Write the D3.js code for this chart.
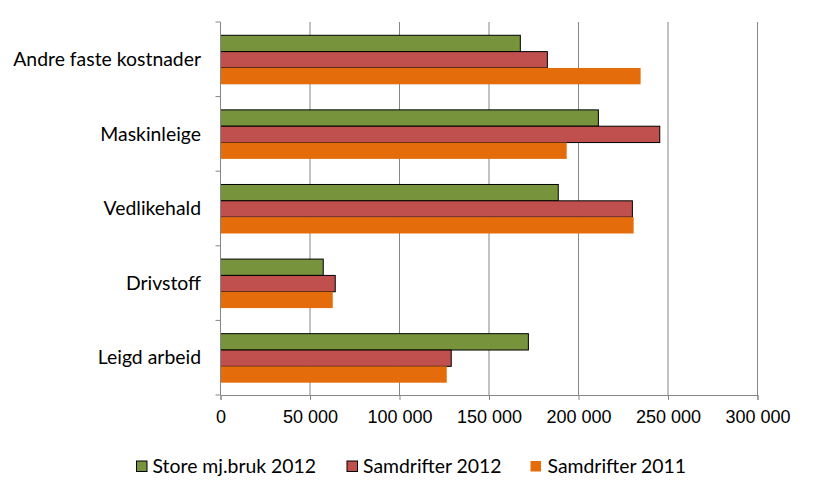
<!DOCTYPE html>
<html>
<head>
<meta charset="utf-8">
<script src="https://d3js.org/d3.v7.min.js"></script>
<style>
  body { margin: 0; background: #fff; }
  svg { display: block; font-family: Lato, "Open Sans", sans-serif; }
  .grid line { stroke: #868686; }
  .axis path, .axis line { stroke: #868686; }
  .axis text { fill: #000; font-size: 18px; }
  .catlabel { fill: #000; font-size: 19.4px; }
  .legend text { font-size: 19.4px; fill: #000; }
</style>
</head>
<body>
<svg width="814" height="498"></svg>
<script>
  // categories, top to bottom
  const categories = ['Andre faste kostnader', 'Maskinleige', 'Vedlikehald', 'Drivstoff', 'Leigd arbeid'];
  const seriesNames = ['Store mj.bruk 2012', 'Samdrifter 2012', 'Samdrifter 2011'];
  const storeMjBruk2012 = [167500, 211100, 188700, 57400, 172000];
  const samdrifter2012 = [182600, 245400, 230100, 64100, 128900];
  const samdrifter2011 = [234700, 193400, 230800, 62700, 126400];
  const xTicks = [0, 50000, 100000, 150000, 200000, 250000, 300000];

  const colors = ['#77933C', '#C0504D', '#E46C0A'];
  const outlined = [true, true, false];

  const svg = d3.select('svg');
  const margin = { top: 22, left: 220.5, right: 56.5, bottom: 103 };
  const width = 814, height = 498;
  const innerWidth = width - margin.left - margin.right;
  const innerHeight = height - margin.top - margin.bottom;

  const allSeries = [storeMjBruk2012, samdrifter2012, samdrifter2011];
  const rows = categories.map((c, i) => ({
    cat: c,
    values: allSeries.map((s, k) => ({ key: k, value: s[i] }))
  }));

  const xScale = d3.scaleLinear().domain([0, 300000]).range([0, innerWidth]);
  const yScale = d3.scaleBand().domain(categories).range([0, innerHeight]);
  // three bars take ~66% of each band
  const inner = d3.scaleBand().domain([0, 1, 2])
    .range([yScale.bandwidth() * 0.178, yScale.bandwidth() * 0.835]);

  const g = svg.append('g').attr('transform', `translate(${margin.left},${margin.top})`);

  // vertical gridlines
  g.append('g').attr('class', 'grid')
    .selectAll('line')
    .data(xTicks.slice(1))
    .join('line')
    .attr('x1', d => xScale(d)).attr('x2', d => xScale(d))
    .attr('y1', 0).attr('y2', innerHeight);

  // bars
  const groups = g.selectAll('.cat')
    .data(rows)
    .join('g')
    .attr('class', 'cat')
    .attr('transform', d => `translate(0,${yScale(d.cat)})`);
  groups.selectAll('rect')
    .data(d => d.values)
    .join('rect')
    .attr('x', 0)
    .attr('y', d => inner(d.key))
    .attr('width', d => xScale(d.value))
    .attr('height', inner.bandwidth())
    .attr('fill', d => colors[d.key])
    .attr('stroke', d => outlined[d.key] ? '#000' : 'none')
    .attr('stroke-width', 1);

  // x axis
  const fmt = d => d3.format(',')(d).replace(/,/g, ' ');
  const xAxis = d3.axisBottom(xScale).tickValues(xTicks).tickFormat(fmt).tickSize(5).tickPadding(10);
  g.append('g').attr('class', 'axis')
    .attr('transform', `translate(0,${innerHeight})`)
    .call(xAxis);

  // y axis: ticks at category boundaries, labels at centres
  const yAxisG = g.append('g').attr('class', 'axis');
  yAxisG.append('line').attr('x1', 0).attr('x2', 0).attr('y1', 0).attr('y2', innerHeight);
  const bounds = categories.map(c => yScale(c)).concat([innerHeight]);
  yAxisG.selectAll('.tick')
    .data(bounds)
    .join('line')
    .attr('class', 'tick')
    .attr('x1', -5).attr('x2', 0)
    .attr('y1', d => d).attr('y2', d => d);
  g.append('g').selectAll('text')
    .data(categories)
    .join('text')
    .attr('class', 'catlabel')
    .attr('x', -19.5)
    .attr('y', d => yScale(d) + yScale.bandwidth() / 2)
    .attr('dy', '0.35em')
    .attr('text-anchor', 'end')
    .text(d => d);

  // legend
  const legendX = [136, 346.5, 530];
  const legend = svg.append('g').attr('class', 'legend')
    .attr('transform', 'translate(0,466.5)');
  const items = legend.selectAll('g')
    .data(seriesNames)
    .join('g')
    .attr('transform', (d, i) => `translate(${legendX[i]},0)`);
  items.append('rect')
    .attr('x', 0.5).attr('y', -5.5)
    .attr('width', 10.5).attr('height', 10.5)
    .attr('fill', (d, i) => colors[i])
    .attr('stroke', (d, i) => outlined[i] ? '#000' : 'none');
  items.append('text')
    .attr('x', (d, i) => outlined[i] ? 16.5 : 17.5)
    .attr('dy', '0.35em')
    .text(d => d);
</script>
</body>
</html>
